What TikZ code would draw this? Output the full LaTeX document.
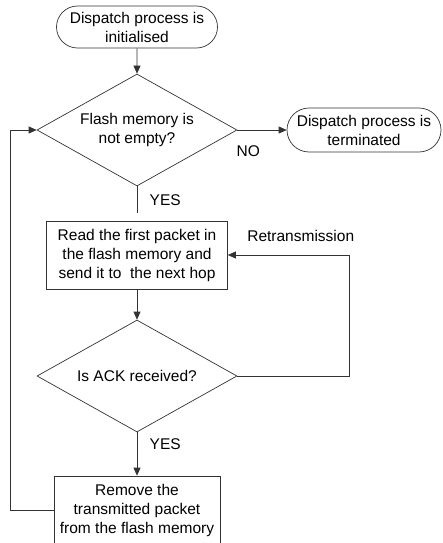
\documentclass[tikz,border=0pt]{standalone}
\usepackage{fontspec}
\setmainfont{Liberation Sans}
\usetikzlibrary{shapes.geometric,shapes.misc,positioning,arrows.meta}

\begin{document}
\begin{tikzpicture}[x=1pt,y=-1pt,on grid,auto,
    line width=0.7pt,draw=black!80,
    every node/.style={font=\fontsize{15.5}{19}\selectfont},
    term/.style={rounded rectangle,draw=black!80,minimum width=161pt,minimum height=42pt,inner sep=0pt,align=center},
    decision/.style={diamond,draw=black!80,aspect=1.79,minimum width=200pt,minimum height=112pt,inner sep=0pt,align=center},
    process/.style={rectangle,draw=black!80,minimum width=181pt,minimum height=68pt,inner sep=0pt,align=center},
    >={Triangle[length=8pt,width=7pt]}]
   \useasboundingbox (0,0) rectangle (442,543);
   \node[term] (start) at (137,27) {Dispatch process is\\initialised};
   \node[decision] (notempty) [below=103pt of start] {Flash memory is\\not empty?};
   \node[term,minimum width=154pt,minimum height=44pt] (stop) [right=227pt of notempty] {Dispatch process is\\terminated};
   \node[process] (send) [below=125pt of notempty] {Read the first packet in\\the flash memory and\\send it to\ \ the next hop};
   \node[decision] (ack) [below=121pt of send] {Is ACK received?};
   \node[process,minimum width=166pt] (remove) [below=134pt of ack] {Remove the\\transmitted packet\\from the flash memory};
   \coordinate (yesend) at ([yshift=-27pt]notempty.south);
    \path[->]
    (start) edge (notempty)
    (notempty) edge node[swap,pos=0.22,below=12pt] {NO} (stop)
    (send) edge (ack)
    (ack) edge node[swap,pos=0.27,right=9pt] {YES} (remove);
    \draw (notempty.south) -- node[swap,right=9pt] {YES} (yesend);
    \draw[->] (ack.east) -- ++(112pt,0pt) |- node[pos=0.7,above=10pt] {Retransmission} (send.east);
    \draw[->] (remove.west) -- ++(-43pt,0pt) |- (notempty.west);
\end{tikzpicture}
\end{document}
